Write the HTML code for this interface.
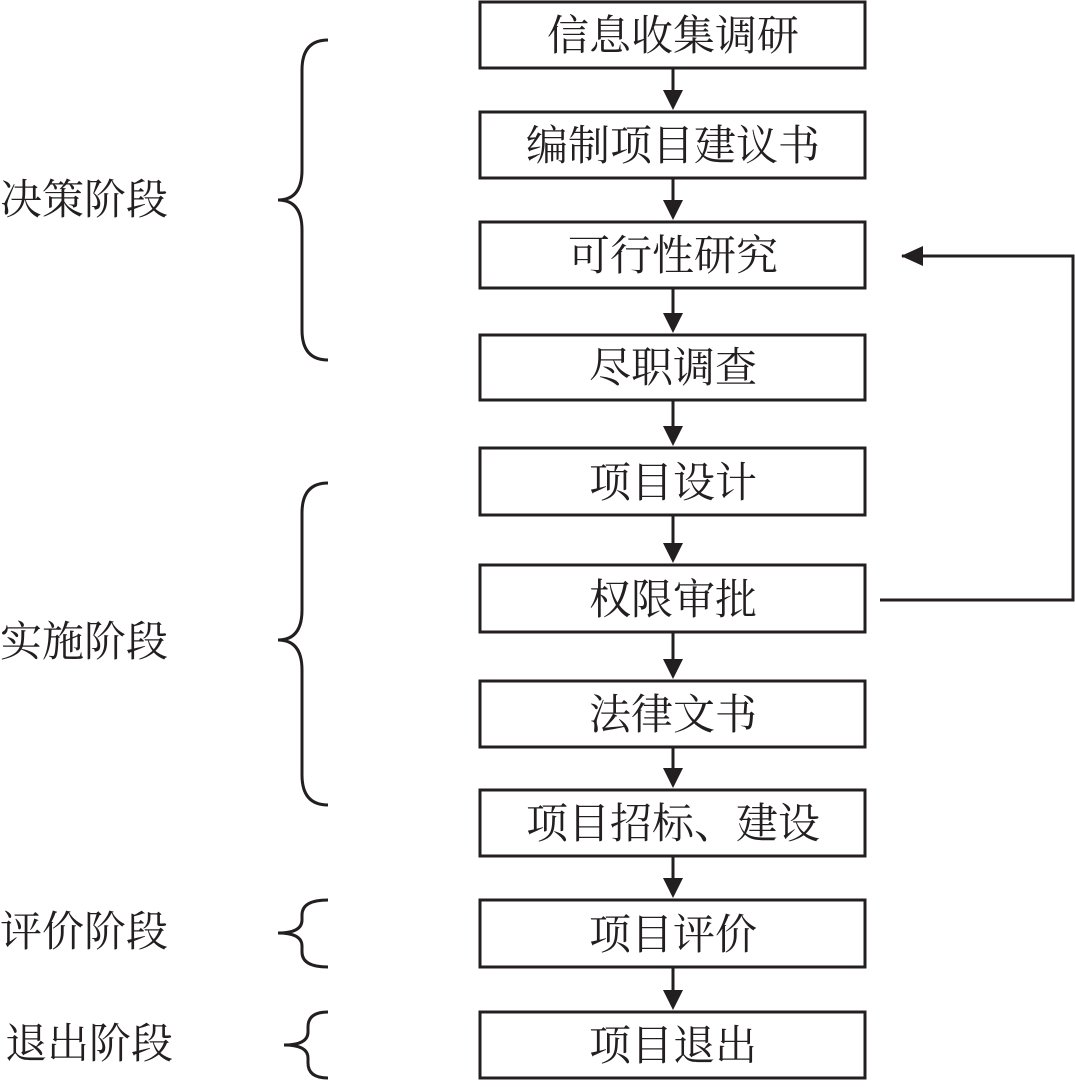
<!DOCTYPE html>
<html><head><meta charset="utf-8"><style>
html,body{margin:0;padding:0;background:#fff;}
svg text{font-family:"Liberation Serif","Noto Serif CJK SC","Noto Sans CJK SC",serif;font-size:42px;fill:#231f20;}
</style></head><body>
<svg width="1075" height="1082" viewBox="0 0 1075 1082" xmlns="http://www.w3.org/2000/svg">
<defs><marker id="a" markerWidth="10" markerHeight="10" refX="9" refY="5" orient="auto" markerUnits="userSpaceOnUse"><path d="M0,0 L10,5 L0,10 z" fill="#231f20"/></marker>
<marker id="b" markerWidth="22" markerHeight="20" refX="21" refY="10" orient="auto" markerUnits="userSpaceOnUse"><path d="M0,0 L22,10 L0,20 z" fill="#231f20"/></marker></defs>
<g fill="none" stroke="#231f20" stroke-width="3">
<rect x="480" y="2" width="385" height="66"/>
<rect x="480" y="112" width="385" height="66"/>
<rect x="480" y="222" width="385" height="66"/>
<rect x="480" y="335" width="385" height="65"/>
<rect x="480" y="448" width="385" height="67"/>
<rect x="480" y="565" width="385" height="67"/>
<rect x="480" y="681" width="385" height="66"/>
<rect x="480" y="790" width="385" height="66"/>
<rect x="480" y="900" width="385" height="67"/>
<rect x="480" y="1012" width="385" height="66"/>
<path d="M880,600 H1073 V256 H902" marker-end="url(#b)"/>
<path d="M328,40 Q302,40 302,70 V170 Q302,200 278,200 Q302,200 302,230 V330 Q302,360 328,360"/>
<path d="M328,483 Q302,483 302,513 V610 Q302,640 278,640 Q302,640 302,670 V775 Q302,805 328,805"/>
<path d="M328,900 Q302,900 302,915 V920 Q302,933 278,933 Q302,933 302,946 V952 Q302,967 328,967"/>
<path d="M328,1012 Q308,1012 308,1027 V1032 Q308,1045 284,1045 Q308,1045 308,1058 V1063 Q308,1078 328,1078"/>
</g>
<g stroke="#231f20" stroke-width="3" fill="#231f20">
<line x1="673" y1="68" x2="673" y2="92"/><path d="M663,90 L683,90 L673,110 z" stroke="none"/>
<line x1="673" y1="178" x2="673" y2="202"/><path d="M663,200 L683,200 L673,220 z" stroke="none"/>
<line x1="673" y1="288" x2="673" y2="315"/><path d="M663,313 L683,313 L673,333 z" stroke="none"/>
<line x1="673" y1="400" x2="673" y2="428"/><path d="M663,426 L683,426 L673,446 z" stroke="none"/>
<line x1="673" y1="515" x2="673" y2="545"/><path d="M663,543 L683,543 L673,563 z" stroke="none"/>
<line x1="673" y1="632" x2="673" y2="661"/><path d="M663,659 L683,659 L673,679 z" stroke="none"/>
<line x1="673" y1="747" x2="673" y2="770"/><path d="M663,768 L683,768 L673,788 z" stroke="none"/>
<line x1="673" y1="856" x2="673" y2="880"/><path d="M663,878 L683,878 L673,898 z" stroke="none"/>
<line x1="673" y1="967" x2="673" y2="992"/><path d="M663,990 L683,990 L673,1010 z" stroke="none"/>
</g>
<g text-anchor="middle">
<text x="673" y="50">信息收集调研</text>
<text x="673" y="160">编制项目建议书</text>
<text x="673" y="270">可行性研究</text>
<text x="673" y="382">尽职调查</text>
<text x="673" y="497">项目设计</text>
<text x="673" y="614">权限审批</text>
<text x="673" y="729">法律文书</text>
<text x="673" y="838">项目招标、建设</text>
<text x="673" y="949">项目评价</text>
<text x="673" y="1060">项目退出</text>
</g>
<text x="0" y="214">决策阶段</text>
<text x="0" y="656">实施阶段</text>
<text x="0" y="946">评价阶段</text>
<text x="5" y="1058">退出阶段</text>
</svg>
</body></html>
